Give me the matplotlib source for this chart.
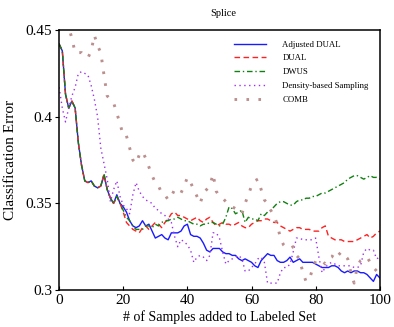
import matplotlib
matplotlib.use("Agg")
import matplotlib.pyplot as plt
import numpy as np

plt.rcParams['font.family'] = ['Liberation Serif', 'DejaVu Serif']

x = list(range(101))

adjusted_dual = [
    .442, .438, .413, .405, .409, .405, .385, .372, .363, .362,
    .363, .360, .359, .360, .366, .358, .353, .350, .355, .350,
    .348, .345, .340, .337, .336, .337, .340, .337, .338, .334,
    .330, .331, .332, .330, .329, .333, .333, .333, .334, .337,
    .338, .332, .331, .331, .330, .327, .323, .322, .324, .324,
    .324, .322, .321, .321, .320, .320, .318, .317, .318, .317,
    .316, .314, .313, .317, .319, .321, .320, .320, .317, .316,
    .316, .317, .319, .316, .317, .318, .316, .316, .316, .316,
    .315, .314, .313, .313, .313, .314, .314, .313, .311, .310,
    .311, .310, .311, .311, .310, .310, .309, .307, .305, .309,
    .307]

dual = [
    .442, .438, .413, .405, .409, .405, .385, .372, .363, .362,
    .363, .360, .359, .360, .367, .358, .353, .350, .354, .350,
    .345, .339, .337, .335, .334, .333, .336, .337, .335, .337,
    .339, .338, .336, .339, .341, .344, .345, .343, .343, .342,
    .341, .340, .341, .342, .340, .339, .341, .342, .339, .337,
    .338, .339, .338, .338, .337, .338, .339, .337, .336, .336,
    .338, .339, .340, .340, .341, .341, .340, .339, .339, .337,
    .336, .335, .334, .335, .336, .336, .335, .335, .335, .334,
    .334, .334, .336, .337, .331, .330, .329, .329, .329, .328,
    .328, .328, .328, .329, .330, .331, .332, .330, .331, .333,
    .334]

dwus = [
    .442, .438, .413, .405, .409, .405, .385, .372, .363, .362,
    .363, .360, .359, .360, .367, .358, .353, .350, .354, .350,
    .346, .342, .340, .337, .335, .335, .335, .337, .337, .336,
    .338, .337, .339, .340, .340, .341, .341, .342, .341, .340,
    .340, .339, .338, .338, .337, .338, .338, .339, .339, .338,
    .337, .338, .342, .348, .347, .344, .345, .346, .339, .342,
    .341, .341, .340, .344, .343, .345, .346, .348, .350, .351,
    .351, .350, .349, .349, .351, .352, .352, .353, .353, .354,
    .354, .355, .356, .356, .357, .358, .359, .360, .361, .362,
    .364, .365, .366, .366, .365, .364, .365, .366, .365, .365,
    .364]

density = [
    .417, .405, .397, .405, .412, .417, .425, .426, .425, .424,
    .418, .410, .400, .382, .373, .364, .351, .358, .363, .354,
    .349, .347, .344, .355, .362, .357, .354, .352, .351, .350,
    .347, .346, .344, .343, .341, .339, .331, .325, .329, .328,
    .326, .323, .316, .319, .320, .319, .317, .320, .333, .333,
    .330, .322, .315, .317, .318, .319, .320, .318, .311, .311,
    .313, .315, .318, .319, .316, .304, .304, .304, .304, .310,
    .313, .313, .315, .322, .330, .330, .329, .329, .329, .329,
    .330, .319, .310, .313, .315, .316, .315, .314, .314, .314,
    .314, .314, .313, .313, .314, .322, .324, .323, .323, .318,
    .319]

comb = [
    .470, .465, .458, .452, .445, .437, .437, .437, .435, .434,
    .438, .447, .441, .437, .424, .412, .410, .408, .402, .396,
    .389, .389, .382, .375, .373, .378, .380, .376, .371, .366,
    .362, .360, .356, .355, .352, .354, .358, .357, .356, .360,
    .365, .362, .358, .354, .350, .356, .358, .360, .367, .357,
    .354, .353, .351, .350, .348, .347, .346, .344, .350, .355,
    .360, .363, .364, .358, .352, .350, .346, .343, .338, .330,
    .326, .324, .324, .325, .320, .318, .310, .305, .306, .312,
    .317, .317, .317, .315, .318, .319, .322, .320, .322, .320,
    .318, .310, .304, .314, .317, .318, .319, .316, .313, .311,
    .310]

labels = ["Adjusted DUAL", "DUAL", "DWUS", "Density-based Sampling", "COMB"]
xticks = [0, 20, 40, 60, 80, 100]
yticks = [0.3, 0.35, 0.4, 0.45]
ytick_labels = ["0.3", "0.35", "0.4", "0.45"]

fig = plt.figure(figsize=(3.94, 3.27), dpi=100)
ax = fig.add_axes([0.150, 0.113, 0.814, 0.795])

ax.plot(x, adjusted_dual, color='#1a1aff', lw=1.0, ls='-', label=labels[0])
ax.plot(x, dual, color='#ff2020', lw=1.0, ls=(0, (4, 2.5)), label=labels[1])
ax.plot(x, dwus, color='#108010', lw=1.0, ls=(0, (4, 2, 1, 2)), label=labels[2])
ax.plot(x, density, color='#a030f0', lw=1.0, ls=(0, (1, 2.5)), label=labels[3])
ax.plot(x, comb, color='#bc8f8f', lw=2.1, ls=(0, (0.9, 3.2)), label=labels[4])

ax.set_xlim(0, 100)
ax.set_ylim(0.3, 0.45)
ax.set_xticks(xticks)
ax.set_yticks(yticks)
ax.set_yticklabels(ytick_labels)
ax.tick_params(axis='x', direction='in', length=3, labelsize=11, pad=3)
ax.tick_params(axis='y', direction='out', length=3, labelsize=11, pad=2)
ax.tick_params(top=False, right=False)
for s in ax.spines.values():
    s.set_linewidth(1.1)

ax.set_xlabel("# of Samples added to Labeled Set", fontsize=10, labelpad=2)
ax.set_ylabel("Classification Error", fontsize=11, labelpad=6)
fig.text(0.567, 0.96, "Splice", fontsize=7.5, ha='center', va='center')

leg = ax.legend(loc='upper right', bbox_to_anchor=(0.99, 0.99), frameon=False,
                fontsize=6.3, handlelength=3.6, handletextpad=1.9, labelspacing=0.65)

fig.savefig("out.png", dpi=100)
